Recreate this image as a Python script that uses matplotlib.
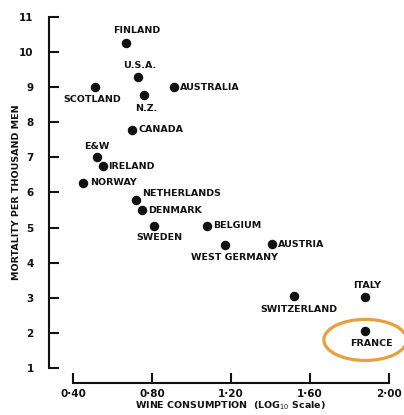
import matplotlib
matplotlib.use("Agg")
import matplotlib.pyplot as plt
from matplotlib.patches import Ellipse

# values (wine consumption on log10 scale, deaths per 1000 men)
countries = ["FINLAND", "U.S.A.", "SCOTLAND", "N.Z.", "AUSTRALIA", "CANADA",
             "E&W", "IRELAND", "NORWAY", "NETHERLANDS", "DENMARK", "SWEDEN",
             "BELGIUM", "WEST GERMANY", "AUSTRIA", "SWITZERLAND", "ITALY", "FRANCE"]
wine = [0.67, 0.73, 0.51, 0.76, 0.91, 0.70,
        0.52, 0.55, 0.45, 0.72, 0.75, 0.81,
        1.08, 1.17, 1.41, 1.52, 1.88, 1.88]
mortality = [10.26, 9.29, 9.0, 8.78, 9.0, 7.78,
             7.01, 6.75, 6.27, 5.79, 5.50, 5.05,
             5.05, 4.50, 4.53, 3.05, 3.02, 2.05]
x_ticks = [0.40, 0.80, 1.20, 1.60, 2.00]
x_tick_labels = ["0·40", "0·80", "1·20", "1·60", "2·00"]
y_ticks = list(range(1, 12))

# label placement: (dx, dy) in pixels, horizontal alignment
label_pos = {
    "FINLAND": (10, 12, "center"), "U.S.A.": (2, 11, "center"),
    "SCOTLAND": (-2, -12, "center"), "N.Z.": (2, -14, "center"),
    "AUSTRALIA": (6, 0, "left"), "CANADA": (6, 0, "left"),
    "E&W": (0, 11, "center"), "IRELAND": (6, 0, "left"),
    "NORWAY": (7, 0, "left"), "NETHERLANDS": (6, 6, "left"),
    "DENMARK": (6, 0, "left"), "SWEDEN": (5, -12, "center"),
    "BELGIUM": (6, 0, "left"), "WEST GERMANY": (9, -12, "center"),
    "AUSTRIA": (5, 0, "left"), "SWITZERLAND": (5, -13, "center"),
    "ITALY": (2, 12, "center"), "FRANCE": (6, -12, "center"),
}

W, H = 404, 415
fig = plt.figure(figsize=(W / 100, H / 100), dpi=100)
ax = fig.add_axes([49 / W, (H - 383) / H, (404 - 49) / W, (383 - 12) / H])

font = dict(family="DejaVu Sans", weight="bold", fontsize=6.8, color="#111111")

ax.scatter(wine, mortality, s=34, color="#111111", zorder=3)
for name, x, y in zip(countries, wine, mortality):
    dx, dy, ha = label_pos[name]
    ax.annotate(name, (x, y), xytext=(dx, dy), textcoords="offset pixels",
                ha=ha, va="center", **font)

# orange ring around France
fr = countries.index("FRANCE")
ax.add_patch(Ellipse((wine[fr], mortality[fr] - 0.25), 0.42, 1.17,
                     fill=False, edgecolor="#E9A03A", linewidth=2.3, clip_on=False))

ax.set_xlim(0.2785, 2.076)
ax.set_ylim(0.573, 11.14)
for s in ["top", "right"]:
    ax.spines[s].set_visible(False)
ax.spines["left"].set_bounds(1, 11)
ax.spines["bottom"].set_bounds(0.4, 2.0)
for s in ["left", "bottom"]:
    ax.spines[s].set_linewidth(1.5)
    ax.spines[s].set_color("#111111")

ax.set_xticks(x_ticks)
ax.set_xticklabels(x_tick_labels)
ax.set_yticks(y_ticks)
ax.tick_params(axis="both", direction="in", length=7, width=1.5, color="#111111")
ax.tick_params(axis="y", pad=11)
ax.tick_params(axis="x", pad=4)
for lab in ax.get_xticklabels() + ax.get_yticklabels():
    lab.set_fontweight("bold")
    lab.set_fontsize(7.5)
    lab.set_color("#111111")

fig.text(230 / W, (H - 406) / H, "WINE CONSUMPTION  (LOG$_{10}$ Scale)",
         ha="center", va="center", **font)
fig.text(17 / W, (H - 192) / H, "MORTALITY PER THOUSAND MEN", rotation=90,
         ha="center", va="center", **font)

fig.savefig("out.png", dpi=100)
